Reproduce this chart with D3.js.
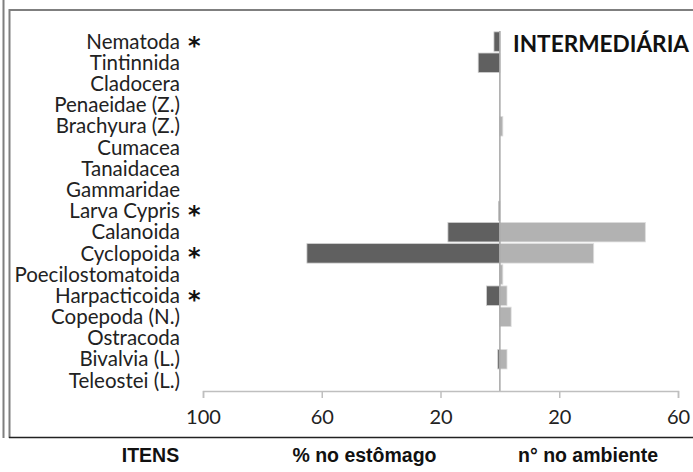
<!DOCTYPE html>
<html>
<head>
<meta charset="utf-8">
<script src="https://cdn.jsdelivr.net/npm/d3@7"></script>
<style>
  body { margin: 0; background: #fff; }
  svg { display: block; }
</style>
</head>
<body>
<svg id="chart"></svg>
<script>
// categories, top to bottom
var categories = ["Nematoda", "Tintinnida", "Cladocera", "Penaeidae (Z.)", "Brachyura (Z.)",
    "Cumacea", "Tanaidacea", "Gammaridae", "Larva Cypris", "Calanoida", "Cyclopoida",
    "Poecilostomatoida", "Harpacticoida", "Copepoda (N.)", "Ostracoda", "Bivalvia (L.)", "Teleostei (L.)"];
// % no estomago (drawn to the left)
var stomach = [2, 7.3, 0, 0, 0, 0, 0, 0, 0.5, 17.5, 65, 0, 4.5, 0, 0, 0.7, 0];
// n° no ambiente (drawn to the right)
var ambient = [0, 0, 0, 0, 1, 0, 0, 0, 0, 49, 31.6, 1, 2.4, 3.8, 0, 2.4, 0];
// items marked with *
var marked = ["Nematoda", "Larva Cypris", "Cyclopoida", "Harpacticoida"];
var tickValues = [-100, -60, -20, 20, 60];

var W = 693, H = 472;
var svg = d3.select("#chart").attr("width", W).attr("height", H);

//scales
var x = d3.scaleLinear().domain([-100, 60]).range([203, 678]);
var y = d3.scaleBand().domain(categories).range([31, 391]).paddingInner(0.08).paddingOuter(0.04);

// frame
svg.append("line").attr("x1", 3.5).attr("x2", 3.5).attr("y1", 0).attr("y2", 438)
    .attr("stroke", "#7f7f7f").attr("stroke-width", 2);
svg.append("line").attr("x1", 9.5).attr("x2", 9.5).attr("y1", 9).attr("y2", 438)
    .attr("stroke", "#7f7f7f").attr("stroke-width", 2);
svg.append("line").attr("x1", 9).attr("x2", W).attr("y1", 10).attr("y2", 10)
    .attr("stroke", "#7f7f7f").attr("stroke-width", 2);
svg.append("line").attr("x1", 9).attr("x2", W).attr("y1", 437.5).attr("y2", 437.5)
    .attr("stroke", "#222").attr("stroke-width", 1.5);

// bars
var rows = categories.map(function (c, i) { return { cat: c, s: stomach[i], a: ambient[i] }; });

svg.append("g").selectAll("rect")
    .data(rows.filter(function (d) { return d.s > 0; }))
    .enter().append("rect")
    .attr("x", function (d) { return x(-d.s); })
    .attr("y", function (d) { return y(d.cat); })
    .attr("width", function (d) { return x(0) - x(-d.s); })
    .attr("height", y.bandwidth())
    .attr("fill", "#606060")
    .attr("stroke", "#d0d0d0").attr("stroke-width", 0.8);

svg.append("g").selectAll("rect")
    .data(rows.filter(function (d) { return d.a > 0; }))
    .enter().append("rect")
    .attr("x", x(0))
    .attr("y", function (d) { return y(d.cat); })
    .attr("width", function (d) { return x(d.a) - x(0); })
    .attr("height", y.bandwidth())
    .attr("fill", "#b2b2b2")
    .attr("stroke", "#dedede").attr("stroke-width", 0.8);

// center line
svg.append("line").attr("x1", x(0)).attr("x2", x(0)).attr("y1", 31).attr("y2", 391)
    .attr("stroke", "#a6a6a6").attr("stroke-width", 1.5);

// x axis
var xAxis = svg.append("g")
    .attr("transform", "translate(0,391)")
    .call(d3.axisBottom(x).tickValues(tickValues).tickSize(7).tickPadding(12)
        .tickFormat(function (d) { return Math.abs(d); }));
xAxis.select(".domain").attr("stroke", "#bfbfbf").attr("stroke-width", 1.5);
xAxis.selectAll(".tick line").attr("stroke", "#bfbfbf").attr("stroke-width", 1.5);
xAxis.selectAll(".tick text").attr("fill", "#222")
    .style("font-family", "Lato, sans-serif").style("font-size", "20px");

// category labels
svg.append("g").selectAll("text")
    .data(categories).enter().append("text")
    .attr("x", 180)
    .attr("y", function (d) { return y(d) + y.bandwidth() / 2; })
    .attr("dy", "0.35em")
    .attr("text-anchor", "end")
    .style("font-family", "Lato, sans-serif").style("font-size", "20.5px")
    .attr("fill", "#222")
    .text(function (d) { return d; });

svg.append("g").selectAll("text")
    .data(marked).enter().append("text")
    .attr("x", 188)
    .attr("y", function (d) { return y(d) + y.bandwidth() / 2; })
    .attr("dy", "0.5em")
    .style("font-family", "'DejaVu Sans', sans-serif").style("font-size", "24px")
    .style("font-weight", "bold")
    .attr("fill", "#111")
    .text("*");

// title
svg.append("text").attr("x", 513).attr("y", 52)
    .style("font-family", "Lato, sans-serif").style("font-size", "22.6px").style("font-weight", "bold")
    .attr("fill", "#111")
    .text("INTERMEDIÁRIA");

// bottom labels
var bottom = [["ITENS", 150.5], ["% no estômago", 364.5], ["n° no ambiente", 588]];
svg.append("g").selectAll("text")
    .data(bottom).enter().append("text")
    .attr("x", function (d) { return d[1]; })
    .attr("y", 462)
    .attr("text-anchor", "middle")
    .style("font-family", "'Liberation Sans', Arial, sans-serif").style("font-size", "19.5px")
    .style("font-weight", "bold")
    .attr("fill", "#111")
    .text(function (d) { return d[0]; });
</script>
</body>
</html>
